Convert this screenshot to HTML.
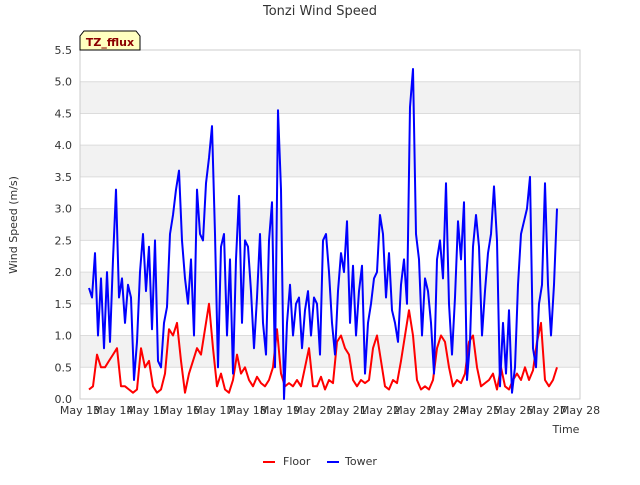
<!DOCTYPE html>
<html><head><meta charset="utf-8"><style>
body{margin:0;background:#fff;font-family:"Liberation Sans","DejaVu Sans",sans-serif}
svg text{font-family:"DejaVu Sans","Liberation Sans",sans-serif}
</style></head><body>
<svg id="chart" width="640" height="480">
<text x="320" y="15" text-anchor="middle" font-size="13" fill="#333">Tonzi Wind Speed</text>
<g id="bands"></g><g id="grid"></g>
<rect x="80" y="50" width="500" height="349" fill="none" stroke="#ccc"/>
<g id="yticks"></g><g id="xticks"></g>
<text transform="translate(17,225) rotate(-90)" text-anchor="middle" font-size="11" fill="#333">Wind Speed (m/s)</text>
<text x="566" y="433" text-anchor="middle" font-size="11" fill="#333">Time</text>
<g id="series"></g>
<g>
<path d="M80,50 L80,36 L84,31 L136,31 L140,36 L140,50 Z" fill="#ffffc0" stroke="#000"/>
<text x="110" y="46" text-anchor="middle" font-size="11" font-weight="bold" fill="#8b0000">TZ_fflux</text></g>
<g>
<line x1="263" y1="462" x2="275" y2="462" stroke="red" stroke-width="2"/>
<text x="283" y="465" font-size="11" fill="#333">Floor</text>
<line x1="327" y1="462" x2="339" y2="462" stroke="blue" stroke-width="2"/>
<text x="345" y="465" font-size="11" fill="#333">Tower</text></g>
</svg>
<script>
const yTicks=[0,0.5,1,1.5,2,2.5,3,3.5,4,4.5,5,5.5];
const yTickLabels=["0.0","0.5","1.0","1.5","2.0","2.5","3.0","3.5","4.0","4.5","5.0","5.5"];
const xDays=[13,14,15,16,17,18,19,20,21,22,23,24,25,26,27,28];
const xTickLabels=["May 13","May 14","May 15","May 16","May 17","May 18","May 19","May 20","May 21","May 22","May 23","May 24","May 25","May 26","May 27","May 28"];
const seriesStartDay=13.27;
const towerStepDays=0.09;
const floorStepDays=0.12;
const towerValues=[1.75,1.6,2.3,1.0,1.9,0.8,2.0,0.9,2.2,3.3,1.6,1.9,1.2,1.8,1.6,0.3,0.9,2.0,2.6,1.7,2.4,1.1,2.5,0.6,0.5,1.2,1.45,2.6,2.9,3.3,3.6,2.5,1.9,1.5,2.2,1.0,3.3,2.6,2.5,3.4,3.8,4.3,2.6,0.5,2.4,2.6,1.0,2.2,0.4,2.2,3.2,1.2,2.5,2.4,1.7,0.8,1.6,2.6,1.2,0.7,2.5,3.1,0.5,4.55,3.3,0.0,1.2,1.8,1.0,1.5,1.6,0.8,1.4,1.7,1.0,1.6,1.5,0.7,2.5,2.6,2.0,1.2,0.7,1.7,2.3,2.0,2.8,1.2,2.1,1.0,1.7,2.1,0.4,1.2,1.5,1.9,2.0,2.9,2.6,1.6,2.3,1.4,1.2,0.9,1.8,2.2,1.5,4.6,5.2,2.6,2.2,1.0,1.9,1.7,1.2,0.4,2.2,2.5,1.9,3.4,1.5,0.7,1.6,2.8,2.2,3.1,0.3,0.9,2.4,2.9,2.4,1.0,1.7,2.3,2.6,3.35,2.5,0.2,1.2,0.4,1.4,0.1,0.5,1.8,2.6,2.8,3.0,3.5,0.8,0.5,1.5,1.8,3.4,1.8,1.0,1.8,3.0];
const floorValues=[0.15,0.2,0.7,0.5,0.5,0.6,0.7,0.8,0.2,0.2,0.15,0.1,0.15,0.8,0.5,0.6,0.2,0.1,0.15,0.4,1.1,1.0,1.2,0.6,0.1,0.4,0.6,0.8,0.7,1.1,1.5,0.8,0.2,0.4,0.15,0.1,0.3,0.7,0.4,0.5,0.3,0.2,0.35,0.25,0.2,0.3,0.5,1.1,0.4,0.2,0.25,0.2,0.3,0.2,0.5,0.8,0.2,0.2,0.35,0.15,0.3,0.25,0.9,1.0,0.8,0.7,0.3,0.2,0.3,0.25,0.3,0.8,1.0,0.6,0.2,0.15,0.3,0.25,0.6,1.0,1.4,1.0,0.3,0.15,0.2,0.15,0.3,0.8,1.0,0.9,0.5,0.2,0.3,0.25,0.4,0.9,1.0,0.5,0.2,0.25,0.3,0.4,0.15,0.5,0.2,0.15,0.3,0.4,0.3,0.5,0.3,0.45,0.9,1.2,0.3,0.2,0.3,0.5];
const NS='http://www.w3.org/2000/svg';
const xScale=d=>80+(d-13)*500/15;
const yScale=v=>399-v*349/5.5;
function mk(tag,attrs,parent){const e=document.createElementNS(NS,tag);for(const k in attrs)e.setAttribute(k,attrs[k]);document.getElementById(parent).appendChild(e);return e;}
for(let i=0;i<yTicks.length-1;i++){
  if(i%2===1){const b=mk('rect',{x:80,y:yScale(yTicks[i+1]),width:500,height:yScale(yTicks[i])-yScale(yTicks[i+1]),fill:'#f2f2f2'},'bands');
  
  }
}
yTicks.forEach((v,i)=>{
  const l=mk('line',{x1:80,x2:580,y1:yScale(v),y2:yScale(v),stroke:'#dcdcdc'},'grid');
  
  
  const t=mk('text',{x:72,y:yScale(v)+4,'text-anchor':'end','font-size':11,fill:'#333'},'yticks');
  t.textContent=yTickLabels[i];
  
  
});
xDays.forEach((d,i)=>{
  const t=mk('text',{x:xScale(d),y:414,'text-anchor':'middle','font-size':11,fill:'#333'},'xticks');
  t.textContent=xTickLabels[i];
  
  
});
function line(vals,step,color,name){
  const pts=vals.map((v,i)=>xScale(seriesStartDay+i*step).toFixed(1)+','+yScale(v).toFixed(1)).join(' ');
  const p=mk('polyline',{points:pts,fill:'none',stroke:color,'stroke-width':2,'stroke-linejoin':'round'},'series');
  
  
}
line(floorValues,floorStepDays,'red','floor-series-line');
line(towerValues,towerStepDays,'blue','tower-series-line');
</script>
</body></html>
